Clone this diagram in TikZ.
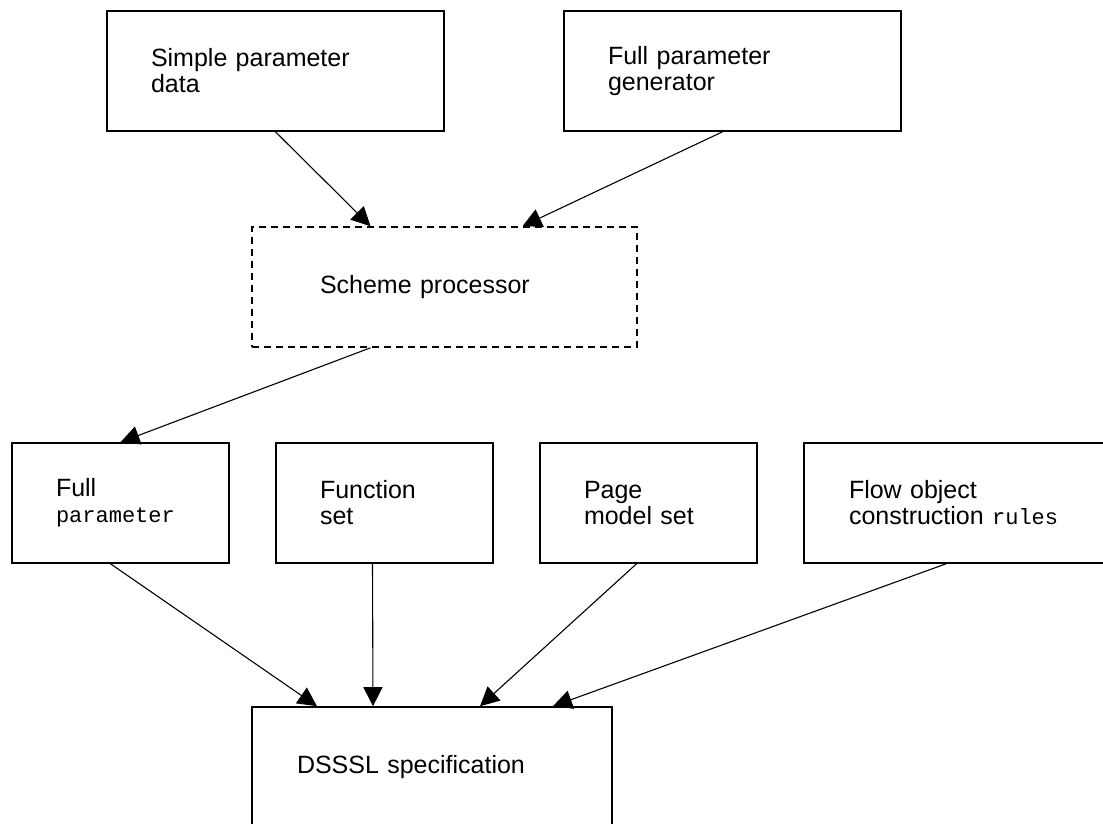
\documentclass[tikz,border=0pt]{standalone}
\usepackage{fontspec}
\setmainfont{Liberation Sans}
\newfontfamily\monofont{Liberation Mono}
\usetikzlibrary{arrows.meta}

\begin{document}
\begin{tikzpicture}[x=1pt, y=-1pt,
  box/.style={draw, line width=1.6pt, minimum height=120pt, inner xsep=44pt,
    align=left, font=\fontsize{25}{26}\selectfont},
  flowarrow/.style={-{Triangle[length=19pt, width=19pt]}, line width=1.1pt}]
  \useasboundingbox (0, 0) rectangle (1103, 823);
  \clip (0, 0) rectangle (1103, 823);
  \fill[white] (0, 0) rectangle (1103, 823);

  \node[box, text width=249pt] (simp) at (275.5, 71) {Simple parameter\\data};
  \node[box, text width=249pt] (fgen) at (732.5, 71) {Full parameter\\generator};
  \node[box, dash pattern=on 7pt off 5pt, inner xsep=68pt, text width=249pt]
    (schm) at (444.5, 287) {Scheme processor};

  \node[box, text width=129pt] (fpar) at (120.5, 503)
    {Full\\{\monofont\fontsize{22}{26}\selectfont parameter}};
  \node[box, text width=129pt] (func) at (384.5, 503) {Function\\set};
  \node[box, text width=129pt] (page) at (648.5, 503) {Page\\model set};
  \node[box, inner xsep=45pt, text width=220pt] (flow) at (959, 503)
    {Flow object\\construction {\monofont\fontsize{22}{26}\selectfont rules}};

  \node[box, inner xsep=45pt, text width=270pt] (dsssl) at (432, 767)
    {DSSSL specification};

  \draw[flowarrow] (simp.south) -- ([xshift=-74pt]schm.north);
  \draw[flowarrow] ([xshift=-10pt]fgen.south) -- ([xshift=78pt]schm.north);
  \draw[flowarrow] ([xshift=-74pt]schm.south) -- (fpar.north);

  \foreach \src/\dx/\tx in {fpar/-10/-115, func/-12/-59, page/-12/48, flow/-13/121}
    \draw[flowarrow] ([xshift=\dx pt]\src.south) -- ([xshift=\tx pt]dsssl.north);
\end{tikzpicture}
\end{document}
